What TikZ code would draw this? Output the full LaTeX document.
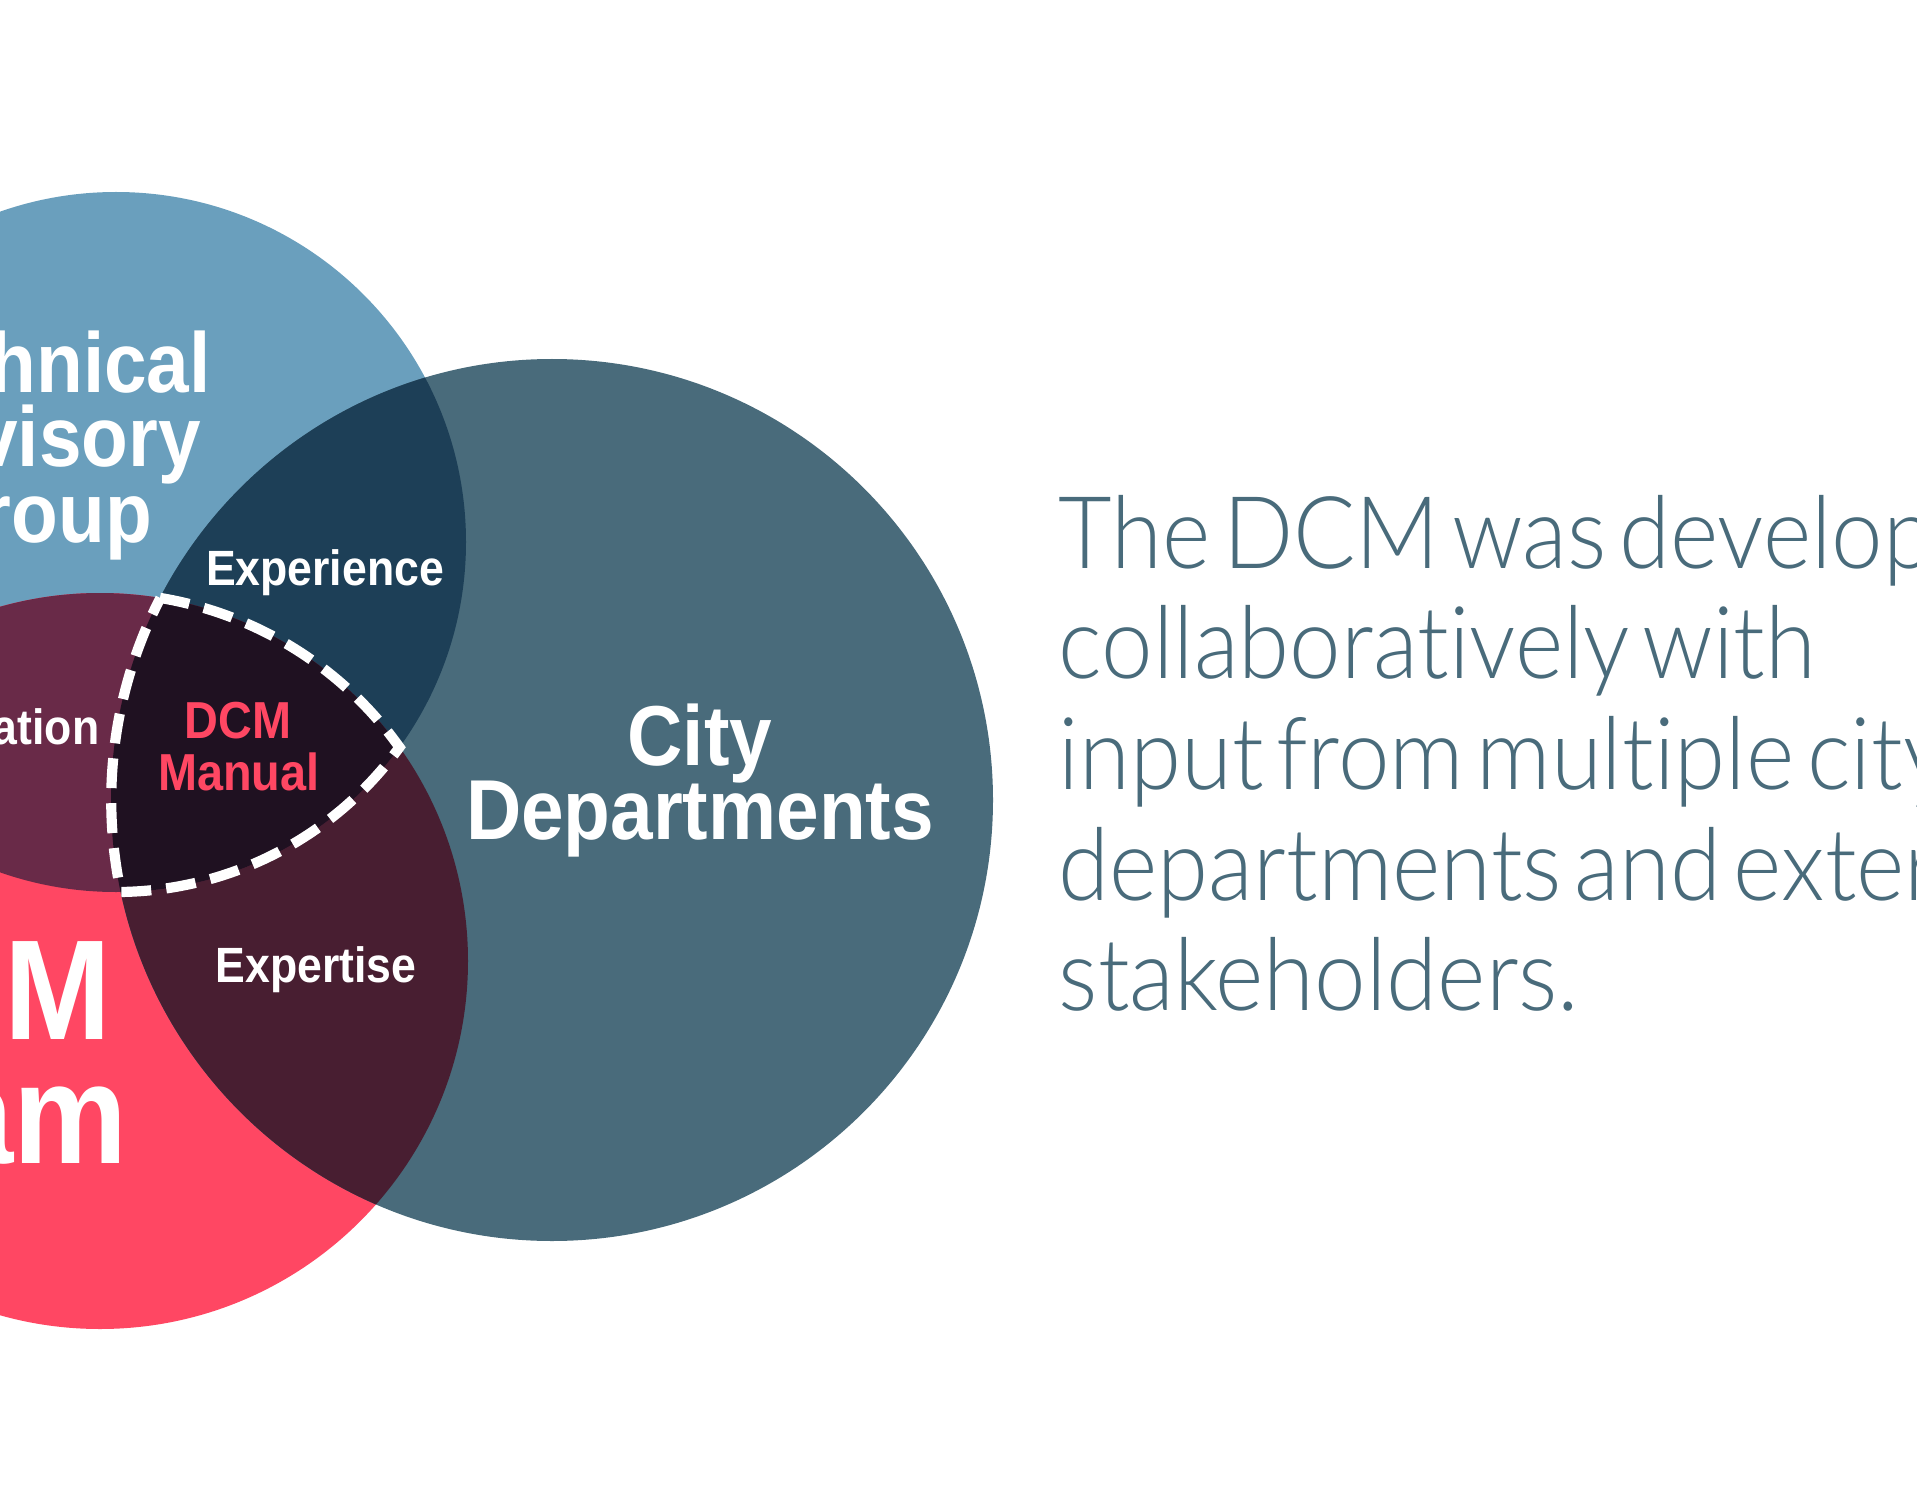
\documentclass[tikz,border=0pt]{standalone}
\usepackage{fontspec}
\usepackage{xcolor}
\newfontfamily\headfont{Liberation Sans Bold}[FakeStretch=0.9]
\IfFontExistsTF{Lato Light}
  {\newfontfamily\bodyfont{Lato Light}[FakeStretch=0.92, WordSpace=0.5, Ligatures=NoCommon]}
  {\newfontfamily\bodyfont{Liberation Sans}[FakeStretch=0.92, WordSpace=0.5]}
\definecolor{tagblue}{RGB}{106,159,189}
\definecolor{teampink}{RGB}{255,71,99}
\definecolor{cityslate}{RGB}{73,107,123}
\definecolor{navy}{RGB}{29,63,87}
\definecolor{maroon}{RGB}{72,30,49}
\definecolor{plum}{RGB}{105,42,72}
\definecolor{core}{RGB}{31,17,33}

\begin{document}
\begin{tikzpicture}[
  pair/.style={text=white, inner sep=0pt, anchor=base, font=\headfont\fontsize{14.1}{15}\selectfont},
  group/.style={text=white, inner sep=0pt, anchor=base, font=\headfont\fontsize{24.2}{21}\selectfont},
  team/.style={text=white, inner sep=0pt, anchor=base, font=\headfont\fontsize{40.5}{35}\selectfont},
  manual/.style={text=teampink, inner sep=0pt, anchor=base, font=\headfont\fontsize{14.8}{15}\selectfont},
  body/.style={text=cityslate, inner sep=0pt, anchor=base west, font=\bodyfont\fontsize{28.6}{31.5}\selectfont},
  outline/.style={draw=white, line width=2.9pt, dash pattern=on 8.5pt off 4.3pt},
]
  \useasboundingbox (0,0) rectangle (19.17,15);
  \clip (0,0) rectangle (19.17,15);

  % Circle centres
  \coordinate (tag) at (1.16,9.58);
  \coordinate (team) at (1.00,5.39);
  \coordinate (city) at (5.52,7.00);

  % Circles
  \fill[tagblue] (tag) circle (3.50);
  \fill[teampink] (team) circle (3.68);
  \fill[cityslate] (city) circle (4.41);

  % Overlaps, darker where more groups meet
  \begin{scope}
    \clip (city) circle (4.41);
    \fill[navy] (tag) circle (3.50);
    \fill[maroon] (team) circle (3.68);
  \end{scope}
  \begin{scope}
    \clip (tag) circle (3.50);
    \fill[plum] (team) circle (3.68);
    \clip (city) circle (4.41);
    \fill[core] (team) circle (3.68);
  \end{scope}

  % Dashed edge round the shared core
  \coordinate (coretop) at (1.600,9.021);
  \draw[outline] (coretop)
    arc[start angle=80.6, end angle=35.5, radius=3.68]
    arc[start angle=-35.9, end angle=-89.2, radius=3.50]
    arc[start angle=192.0, end angle=152.7, radius=4.41] -- cycle;

  % Group names
  \node[group] (tag1) at (0.37,11.07) {Technical};
  \node[group] (tag2) at (0.37,10.33) {Advisory};
  \node[group] (tag3) at (0.37,9.58) {Group};
  \node[team] (team1) at (-0.35,4.61) {DCM};
  \node[team] (team2) at (-0.35,3.37) {Team};
  \node[group] (city1) at (7.00,7.35) {City};
  \node[group] (city2) at (7.00,6.61) {Departments};

  % What each overlap brings
  \node[pair] (exp1) at (3.25,9.15) {Experience};
  \node[pair] (exp2) at (3.16,5.18) {Expertise};
  \node[pair, anchor=base east] (coord) at (1.00,7.56) {Coordination};
  \node[manual] (man1) at (2.38,7.62) {DCM};
  \node[manual] (man2) at (2.39,7.10) {Manual};

  % Note on the right
  \foreach \txt [count=\i] in {The DCM was developed, collaboratively with,
      input from multiple city, departments and external, stakeholders.}
    \node[body] (note\i) at (10.58,{9.32-1.107*(\i-1)}) {\txt};
\end{tikzpicture}
\end{document}
